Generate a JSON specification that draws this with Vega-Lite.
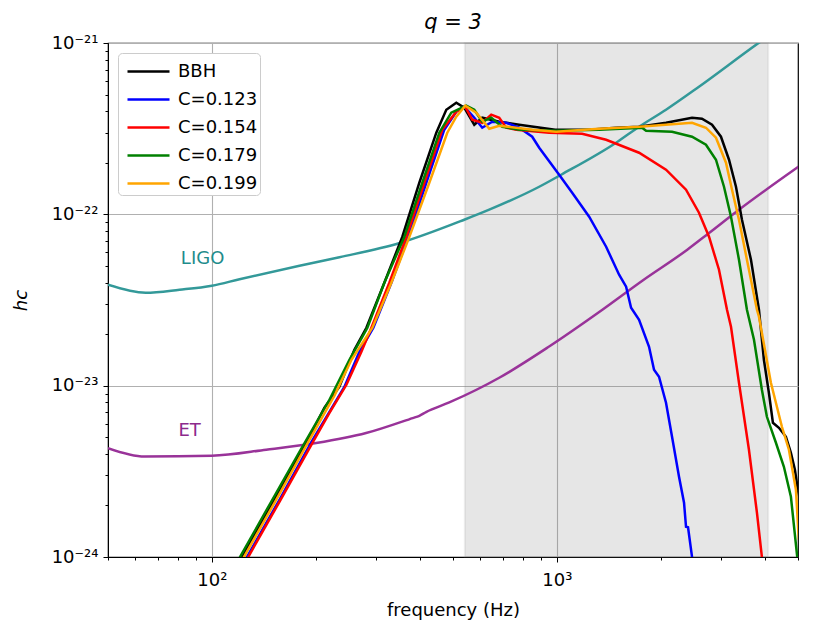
{
  "$schema": "https://vega.github.io/schema/vega-lite/v6.json",
  "autosize": "none",
  "padding": {"left": 108, "top": 43, "right": 15, "bottom": 76},
  "width": 690,
  "height": 514,
  "background": "white",
  "title": {"text": "q = 3", "fontSize": 21, "fontStyle": "italic", "fontWeight": "normal", "font": "DejaVu Sans", "color": "black", "offset": 1},
  "config": {
    "font": "DejaVu Sans",
    "view": {"stroke": "black", "strokeWidth": 1.2}
  },
  "datasets": {
    "band": [{"f0": 541, "f1": 4100, "h0": 1e-24, "h1": 1e-21}],
    "signals": [
      {"s": "BBH", "f": 116.3, "h": 8.42e-25},
      {"s": "BBH", "f": 121.6, "h": 9.89e-25},
      {"s": "BBH", "f": 137.4, "h": 1.521e-24},
      {"s": "BBH", "f": 162.3, "h": 2.748e-24},
      {"s": "BBH", "f": 191.8, "h": 5.031e-24},
      {"s": "BBH", "f": 212.0, "h": 7.43e-24},
      {"s": "BBH", "f": 234.3, "h": 9.854e-24},
      {"s": "BBH", "f": 250.5, "h": 1.379e-23},
      {"s": "BBH", "f": 258.9, "h": 1.62e-23},
      {"s": "BBH", "f": 280.5, "h": 2.178e-23},
      {"s": "BBH", "f": 316.2, "h": 3.988e-23},
      {"s": "BBH", "f": 356.6, "h": 7.4e-23},
      {"s": "BBH", "f": 399.4, "h": 1.529e-22},
      {"s": "BBH", "f": 447.3, "h": 2.995e-22},
      {"s": "BBH", "f": 478.1, "h": 4.08e-22},
      {"s": "BBH", "f": 511.1, "h": 4.481e-22},
      {"s": "BBH", "f": 539.0, "h": 4.191e-22},
      {"s": "BBH", "f": 576.3, "h": 3.335e-22},
      {"s": "BBH", "f": 607.8, "h": 3.664e-22},
      {"s": "BBH", "f": 680.8, "h": 3.472e-22},
      {"s": "BBH", "f": 777.8, "h": 3.335e-22},
      {"s": "BBH", "f": 988.8, "h": 3.118e-22},
      {"s": "BBH", "f": 1240.6, "h": 3.118e-22},
      {"s": "BBH", "f": 1484.9, "h": 3.203e-22},
      {"s": "BBH", "f": 1731.1, "h": 3.246e-22},
      {"s": "BBH", "f": 2072, "h": 3.425e-22},
      {"s": "BBH", "f": 2465, "h": 3.664e-22},
      {"s": "BBH", "f": 2634, "h": 3.615e-22},
      {"s": "BBH", "f": 2817, "h": 3.335e-22},
      {"s": "BBH", "f": 2990, "h": 2.838e-22},
      {"s": "BBH", "f": 3155, "h": 2.083e-22},
      {"s": "BBH", "f": 3305, "h": 1.449e-22},
      {"s": "BBH", "f": 3440, "h": 9.3e-23},
      {"s": "BBH", "f": 3653, "h": 5.433e-23},
      {"s": "BBH", "f": 3853, "h": 2.774e-23},
      {"s": "BBH", "f": 3982, "h": 1.416e-23},
      {"s": "BBH", "f": 4117, "h": 9.091e-24},
      {"s": "BBH", "f": 4229, "h": 6.073e-24},
      {"s": "BBH", "f": 4402, "h": 5.678e-24},
      {"s": "BBH", "f": 4613, "h": 5.031e-24},
      {"s": "BBH", "f": 4769, "h": 4.058e-24},
      {"s": "BBH", "f": 4898, "h": 3.228e-24},
      {"s": "BBH", "f": 4996, "h": 2.468e-24},
      {"s": "BBH", "f": 5131, "h": 1.886e-24},

      {"s": "C=0.123", "f": 126.0, "h": 9.89e-25},
      {"s": "C=0.123", "f": 157.0, "h": 2.158e-24},
      {"s": "C=0.123", "f": 194.4, "h": 4.704e-24},
      {"s": "C=0.123", "f": 219.2, "h": 7.04e-24},
      {"s": "C=0.123", "f": 242.3, "h": 9.854e-24},
      {"s": "C=0.123", "f": 267.6, "h": 1.577e-23},
      {"s": "C=0.123", "f": 293.9, "h": 2.178e-23},
      {"s": "C=0.123", "f": 331.4, "h": 3.988e-23},
      {"s": "C=0.123", "f": 371.2, "h": 7.4e-23},
      {"s": "C=0.123", "f": 418.4, "h": 1.529e-22},
      {"s": "C=0.123", "f": 471.8, "h": 3.118e-22},
      {"s": "C=0.123", "f": 511.1, "h": 3.971e-22},
      {"s": "C=0.123", "f": 539.0, "h": 4.248e-22},
      {"s": "C=0.123", "f": 576.3, "h": 3.664e-22},
      {"s": "C=0.123", "f": 607.8, "h": 3.203e-22},
      {"s": "C=0.123", "f": 649.7, "h": 3.472e-22},
      {"s": "C=0.123", "f": 713.3, "h": 3.425e-22},
      {"s": "C=0.123", "f": 777.8, "h": 3.203e-22},
      {"s": "C=0.123", "f": 848.3, "h": 2.838e-22},
      {"s": "C=0.123", "f": 888.9, "h": 2.448e-22},
      {"s": "C=0.123", "f": 1015.5, "h": 1.703e-22},
      {"s": "C=0.123", "f": 1107.7, "h": 1.337e-22},
      {"s": "C=0.123", "f": 1240.6, "h": 9.683e-23},
      {"s": "C=0.123", "f": 1389.3, "h": 6.47e-23},
      {"s": "C=0.123", "f": 1515.0, "h": 4.441e-23},
      {"s": "C=0.123", "f": 1587.5, "h": 3.78e-23},
      {"s": "C=0.123", "f": 1641.1, "h": 2.85e-23},
      {"s": "C=0.123", "f": 1731.1, "h": 2.425e-23},
      {"s": "C=0.123", "f": 1850.2, "h": 1.687e-23},
      {"s": "C=0.123", "f": 1912.8, "h": 1.238e-23},
      {"s": "C=0.123", "f": 1977.7, "h": 1.127e-23},
      {"s": "C=0.123", "f": 2072, "h": 7.948e-24},
      {"s": "C=0.123", "f": 2157, "h": 5.031e-24},
      {"s": "C=0.123", "f": 2260, "h": 2.939e-24},
      {"s": "C=0.123", "f": 2337, "h": 2.072e-24},
      {"s": "C=0.123", "f": 2368, "h": 1.501e-24},
      {"s": "C=0.123", "f": 2400, "h": 1.49e-24},
      {"s": "C=0.123", "f": 2465, "h": 1.003e-24},
      {"s": "C=0.123", "f": 2481, "h": 8.42e-25},

      {"s": "C=0.154", "f": 127.1, "h": 9.89e-25},
      {"s": "C=0.154", "f": 157.0, "h": 2.1e-24},
      {"s": "C=0.154", "f": 195.7, "h": 4.642e-24},
      {"s": "C=0.154", "f": 219.2, "h": 6.947e-24},
      {"s": "C=0.154", "f": 245.5, "h": 1.012e-23},
      {"s": "C=0.154", "f": 271.3, "h": 1.577e-23},
      {"s": "C=0.154", "f": 290.0, "h": 2.178e-23},
      {"s": "C=0.154", "f": 326.9, "h": 3.988e-23},
      {"s": "C=0.154", "f": 366.3, "h": 7.4e-23},
      {"s": "C=0.154", "f": 412.9, "h": 1.529e-22},
      {"s": "C=0.154", "f": 465.6, "h": 3.118e-22},
      {"s": "C=0.154", "f": 511.1, "h": 3.971e-22},
      {"s": "C=0.154", "f": 542.6, "h": 4.248e-22},
      {"s": "C=0.154", "f": 568.6, "h": 3.566e-22},
      {"s": "C=0.154", "f": 607.8, "h": 3.425e-22},
      {"s": "C=0.154", "f": 645.4, "h": 3.815e-22},
      {"s": "C=0.154", "f": 680.8, "h": 3.664e-22},
      {"s": "C=0.154", "f": 713.3, "h": 3.203e-22},
      {"s": "C=0.154", "f": 762.4, "h": 3.118e-22},
      {"s": "C=0.154", "f": 949.9, "h": 2.995e-22},
      {"s": "C=0.154", "f": 1183.6, "h": 2.954e-22},
      {"s": "C=0.154", "f": 1389.3, "h": 2.726e-22},
      {"s": "C=0.154", "f": 1731.1, "h": 2.289e-22},
      {"s": "C=0.154", "f": 2072, "h": 1.821e-22},
      {"s": "C=0.154", "f": 2368, "h": 1.392e-22},
      {"s": "C=0.154", "f": 2582, "h": 1.022e-22},
      {"s": "C=0.154", "f": 2761, "h": 7.4e-23},
      {"s": "C=0.154", "f": 2951, "h": 4.75e-23},
      {"s": "C=0.154", "f": 3113, "h": 2.774e-23},
      {"s": "C=0.154", "f": 3197, "h": 2.207e-23},
      {"s": "C=0.154", "f": 3372, "h": 1.04e-23},
      {"s": "C=0.154", "f": 3604, "h": 4.226e-24},
      {"s": "C=0.154", "f": 3802, "h": 1.811e-24},
      {"s": "C=0.154", "f": 3929, "h": 1.003e-24},
      {"s": "C=0.154", "f": 3982, "h": 7.87e-25},

      {"s": "C=0.179", "f": 120.3, "h": 9.89e-25},
      {"s": "C=0.179", "f": 146.9, "h": 2.017e-24},
      {"s": "C=0.179", "f": 179.5, "h": 4.114e-24},
      {"s": "C=0.179", "f": 219.2, "h": 8.275e-24},
      {"s": "C=0.179", "f": 250.5, "h": 1.416e-23},
      {"s": "C=0.179", "f": 282.4, "h": 2.178e-23},
      {"s": "C=0.179", "f": 316.2, "h": 3.988e-23},
      {"s": "C=0.179", "f": 361.4, "h": 7.4e-23},
      {"s": "C=0.179", "f": 407.4, "h": 1.529e-22},
      {"s": "C=0.179", "f": 456.3, "h": 2.995e-22},
      {"s": "C=0.179", "f": 494.3, "h": 3.919e-22},
      {"s": "C=0.179", "f": 546.3, "h": 4.305e-22},
      {"s": "C=0.179", "f": 576.3, "h": 4.08e-22},
      {"s": "C=0.179", "f": 607.8, "h": 3.472e-22},
      {"s": "C=0.179", "f": 645.4, "h": 3.664e-22},
      {"s": "C=0.179", "f": 694.6, "h": 3.246e-22},
      {"s": "C=0.179", "f": 777.8, "h": 3.118e-22},
      {"s": "C=0.179", "f": 995.4, "h": 3.076e-22},
      {"s": "C=0.179", "f": 1326.1, "h": 3.118e-22},
      {"s": "C=0.179", "f": 1766, "h": 3.203e-22},
      {"s": "C=0.179", "f": 1813.8, "h": 3.076e-22},
      {"s": "C=0.179", "f": 2157, "h": 3.035e-22},
      {"s": "C=0.179", "f": 2465, "h": 2.838e-22},
      {"s": "C=0.179", "f": 2705, "h": 2.548e-22},
      {"s": "C=0.179", "f": 2892, "h": 2.083e-22},
      {"s": "C=0.179", "f": 3051, "h": 1.449e-22},
      {"s": "C=0.179", "f": 3197, "h": 9.683e-23},
      {"s": "C=0.179", "f": 3372, "h": 5.433e-23},
      {"s": "C=0.179", "f": 3556, "h": 2.774e-23},
      {"s": "C=0.179", "f": 3727, "h": 1.854e-23},
      {"s": "C=0.179", "f": 3929, "h": 9.465e-24},
      {"s": "C=0.179", "f": 4063, "h": 6.582e-24},
      {"s": "C=0.179", "f": 4315, "h": 4.642e-24},
      {"s": "C=0.179", "f": 4551, "h": 3.362e-24},
      {"s": "C=0.179", "f": 4769, "h": 2.246e-24},
      {"s": "C=0.179", "f": 4974, "h": 1.003e-24},
      {"s": "C=0.179", "f": 5029, "h": 8.42e-25},

      {"s": "C=0.199", "f": 123.5, "h": 9.89e-25},
      {"s": "C=0.199", "f": 151.9, "h": 2.072e-24},
      {"s": "C=0.199", "f": 191.8, "h": 4.832e-24},
      {"s": "C=0.199", "f": 226.6, "h": 8.732e-24},
      {"s": "C=0.199", "f": 253.9, "h": 1.416e-23},
      {"s": "C=0.199", "f": 292.0, "h": 2.178e-23},
      {"s": "C=0.199", "f": 331.4, "h": 3.988e-23},
      {"s": "C=0.199", "f": 373.7, "h": 7.4e-23},
      {"s": "C=0.199", "f": 426.9, "h": 1.529e-22},
      {"s": "C=0.199", "f": 481.3, "h": 2.995e-22},
      {"s": "C=0.199", "f": 511.1, "h": 3.714e-22},
      {"s": "C=0.199", "f": 542.6, "h": 4.305e-22},
      {"s": "C=0.199", "f": 584.0, "h": 3.919e-22},
      {"s": "C=0.199", "f": 636.8, "h": 3.16e-22},
      {"s": "C=0.199", "f": 680.8, "h": 3.29e-22},
      {"s": "C=0.199", "f": 848.3, "h": 3.118e-22},
      {"s": "C=0.199", "f": 995.4, "h": 3.035e-22},
      {"s": "C=0.199", "f": 1326.1, "h": 3.16e-22},
      {"s": "C=0.199", "f": 1731.1, "h": 3.246e-22},
      {"s": "C=0.199", "f": 2465, "h": 3.425e-22},
      {"s": "C=0.199", "f": 2705, "h": 3.203e-22},
      {"s": "C=0.199", "f": 2892, "h": 2.8e-22},
      {"s": "C=0.199", "f": 3092, "h": 2.001e-22},
      {"s": "C=0.199", "f": 3219, "h": 1.392e-22},
      {"s": "C=0.199", "f": 3372, "h": 9.3e-23},
      {"s": "C=0.199", "f": 3556, "h": 5.433e-23},
      {"s": "C=0.199", "f": 3802, "h": 2.774e-23},
      {"s": "C=0.199", "f": 3853, "h": 2.525e-23},
      {"s": "C=0.199", "f": 4173, "h": 1.04e-23},
      {"s": "C=0.199", "f": 4491, "h": 5.756e-24},
      {"s": "C=0.199", "f": 4706, "h": 4.226e-24},
      {"s": "C=0.199", "f": 4931, "h": 2.468e-24},
      {"s": "C=0.199", "f": 5029, "h": 1.26e-24}
    ],
    "detectors": [
      {"d": "LIGO", "f": 50, "h": 3.882e-23},
      {"d": "LIGO", "f": 64.27, "h": 3.486e-23},
      {"d": "LIGO", "f": 80.6, "h": 3.629e-23},
      {"d": "LIGO", "f": 100, "h": 3.83e-23},
      {"d": "LIGO", "f": 120.3, "h": 4.18e-23},
      {"d": "LIGO", "f": 179.5, "h": 5.01e-23},
      {"d": "LIGO", "f": 234.3, "h": 5.618e-23},
      {"d": "LIGO", "f": 350.4, "h": 6.8e-23},
      {"d": "LIGO", "f": 539, "h": 9.3e-23},
      {"d": "LIGO", "f": 636.8, "h": 1.064e-22},
      {"d": "LIGO", "f": 888.9, "h": 1.449e-22},
      {"d": "LIGO", "f": 1029, "h": 1.703e-22},
      {"d": "LIGO", "f": 1485, "h": 2.618e-22},
      {"d": "LIGO", "f": 1731, "h": 3.246e-22},
      {"d": "LIGO", "f": 2072, "h": 4.08e-22},
      {"d": "LIGO", "f": 2582, "h": 5.558e-22},
      {"d": "LIGO", "f": 3853, "h": 1.004e-21},
      {"d": "LIGO", "f": 4117, "h": 1.103e-21},
      {"d": "ET", "f": 50, "h": 4.322e-24},
      {"d": "ET", "f": 63.86, "h": 3.861e-24},
      {"d": "ET", "f": 100, "h": 3.898e-24},
      {"d": "ET", "f": 143.7, "h": 4.226e-24},
      {"d": "ET", "f": 200.6, "h": 4.623e-24},
      {"d": "ET", "f": 279.9, "h": 5.288e-24},
      {"d": "ET", "f": 381.9, "h": 6.47e-24},
      {"d": "ET", "f": 399.4, "h": 6.672e-24},
      {"d": "ET", "f": 417.6, "h": 7.013e-24},
      {"d": "ET", "f": 487.8, "h": 7.979e-24},
      {"d": "ET", "f": 680.8, "h": 1.112e-23},
      {"d": "ET", "f": 949.9, "h": 1.693e-23},
      {"d": "ET", "f": 1355, "h": 2.774e-23},
      {"d": "ET", "f": 1769, "h": 4.097e-23},
      {"d": "ET", "f": 2388, "h": 6.214e-23},
      {"d": "ET", "f": 2761, "h": 7.779e-23},
      {"d": "ET", "f": 3372, "h": 1.064e-22},
      {"d": "ET", "f": 5029, "h": 1.904e-22}
    ],
    "labels": [
      {"d": "LIGO", "f": 94, "h": 5.5e-23},
      {"d": "ET", "f": 86.2, "h": 5.45e-24}
    ]
  },
  "encoding": {
    "x": {
      "field": "f",
      "type": "quantitative",
      "title": "frequency (Hz)",
      "scale": {"type": "log", "domain": [50, 5000], "nice": false},
      "axis": {
        "values": [50, 60, 70, 80, 90, 100, 200, 300, 400, 500, 600, 700, 800, 900, 1000, 2000, 3000, 4000, 5000],
        "labelExpr": "datum.value == 100 ? '10²' : datum.value == 1000 ? '10³' : ''",
        "labelOverlap": false,
        "labelFlush": false,
        "labelFontSize": 18,
        "labelColor": "black",
        "labelPadding": 9,
        "titleFontSize": 18,
        "titleFontWeight": "normal",
        "titleColor": "black",
        "titlePadding": 12,
        "domainColor": "black",
        "tickColor": "black",
        "tickSize": {"condition": {"test": "datum.value == 100 || datum.value == 1000", "value": 5}, "value": 3},
        "gridColor": "#b0b0b0",
        "gridWidth": 1.1,
        "gridOpacity": {"condition": {"test": "datum.value == 100 || datum.value == 1000", "value": 1}, "value": 0}
      }
    },
    "y": {
      "field": "h",
      "type": "quantitative",
      "title": "hc",
      "scale": {"type": "log", "domain": [1e-24, 1e-21], "nice": false},
      "axis": {
        "values": [1e-24, 2e-24, 3e-24, 4e-24, 5e-24, 6e-24, 7e-24, 8e-24, 9e-24, 1e-23, 2e-23, 3e-23, 4e-23, 5e-23, 6e-23, 7e-23, 8e-23, 9e-23, 1e-22, 2e-22, 3e-22, 4e-22, 5e-22, 6e-22, 7e-22, 8e-22, 9e-22, 1e-21],
        "labelExpr": "datum.value == 1e-21 ? '10⁻²¹' : datum.value == 1e-22 ? '10⁻²²' : datum.value == 1e-23 ? '10⁻²³' : datum.value == 1e-24 ? '10⁻²⁴' : ''",
        "labelOverlap": false,
        "labelFlush": false,
        "labelFontSize": 18,
        "labelColor": "black",
        "labelPadding": 5,
        "titleFontSize": 18,
        "titleFontWeight": "normal",
        "titleFontStyle": "italic",
        "titleColor": "black",
        "titlePadding": 21,
        "domainColor": "black",
        "tickColor": "black",
        "tickSize": {"condition": {"test": "datum.value == 1e-24 || datum.value == 1e-23 || datum.value == 1e-22 || datum.value == 1e-21", "value": 5}, "value": 3},
        "gridColor": "#b0b0b0",
        "gridWidth": 1.1,
        "gridOpacity": {"condition": {"test": "datum.value == 1e-24 || datum.value == 1e-23 || datum.value == 1e-22 || datum.value == 1e-21", "value": 1}, "value": 0}
      }
    }
  },
  "layer": [
    {
      "data": {"name": "band"},
      "mark": {"type": "rect", "fill": "#808080", "fillOpacity": 0.2, "stroke": "#808080", "strokeOpacity": 0.12, "strokeWidth": 2},
      "encoding": {
        "x": {"field": "f0", "type": "quantitative"},
        "x2": {"field": "f1"},
        "y": {"field": "h0", "type": "quantitative"},
        "y2": {"field": "h1"}
      }
    },
    {
      "data": {"name": "detectors"},
      "mark": {"type": "line", "strokeWidth": 2.5, "clip": true, "interpolate": "monotone"},
      "encoding": {
        "stroke": {
          "field": "d",
          "type": "nominal",
          "scale": {"domain": ["LIGO", "ET"], "range": ["#339999", "#993399"]},
          "legend": null
        }
      }
    },
    {
      "data": {"name": "labels"},
      "mark": {"type": "text", "fontSize": 18, "align": "center", "baseline": "middle"},
      "encoding": {
        "text": {"field": "d"},
        "fill": {
          "field": "d",
          "type": "nominal",
          "scale": {"domain": ["LIGO", "ET"], "range": ["#1f8c8c", "#8c2a8c"]},
          "legend": null
        }
      }
    },
    {
      "data": {"name": "signals"},
      "mark": {"type": "line", "strokeWidth": 2.5, "clip": true},
      "encoding": {
        "color": {
          "field": "s",
          "type": "nominal",
          "scale": {
            "domain": ["BBH", "C=0.123", "C=0.154", "C=0.179", "C=0.199"],
            "range": ["black", "blue", "red", "green", "orange"]
          },
          "legend": {
            "title": null,
            "orient": "top-left",
            "offset": 10,
            "symbolType": "M-0.6,0H2.2",
            "symbolSize": 900,
            "symbolStrokeWidth": 2.5,
            "symbolFillColor": "transparent",
            "labelFontSize": 18,
            "labelColor": "black",
            "labelOffset": 25,
            "labelLimit": 300,
            "rowPadding": 2,
            "padding": 2,
            "fillColor": "white",
            "strokeColor": "#cccccc",
            "cornerRadius": 4
          }
        }
      }
    }
  ]
}
